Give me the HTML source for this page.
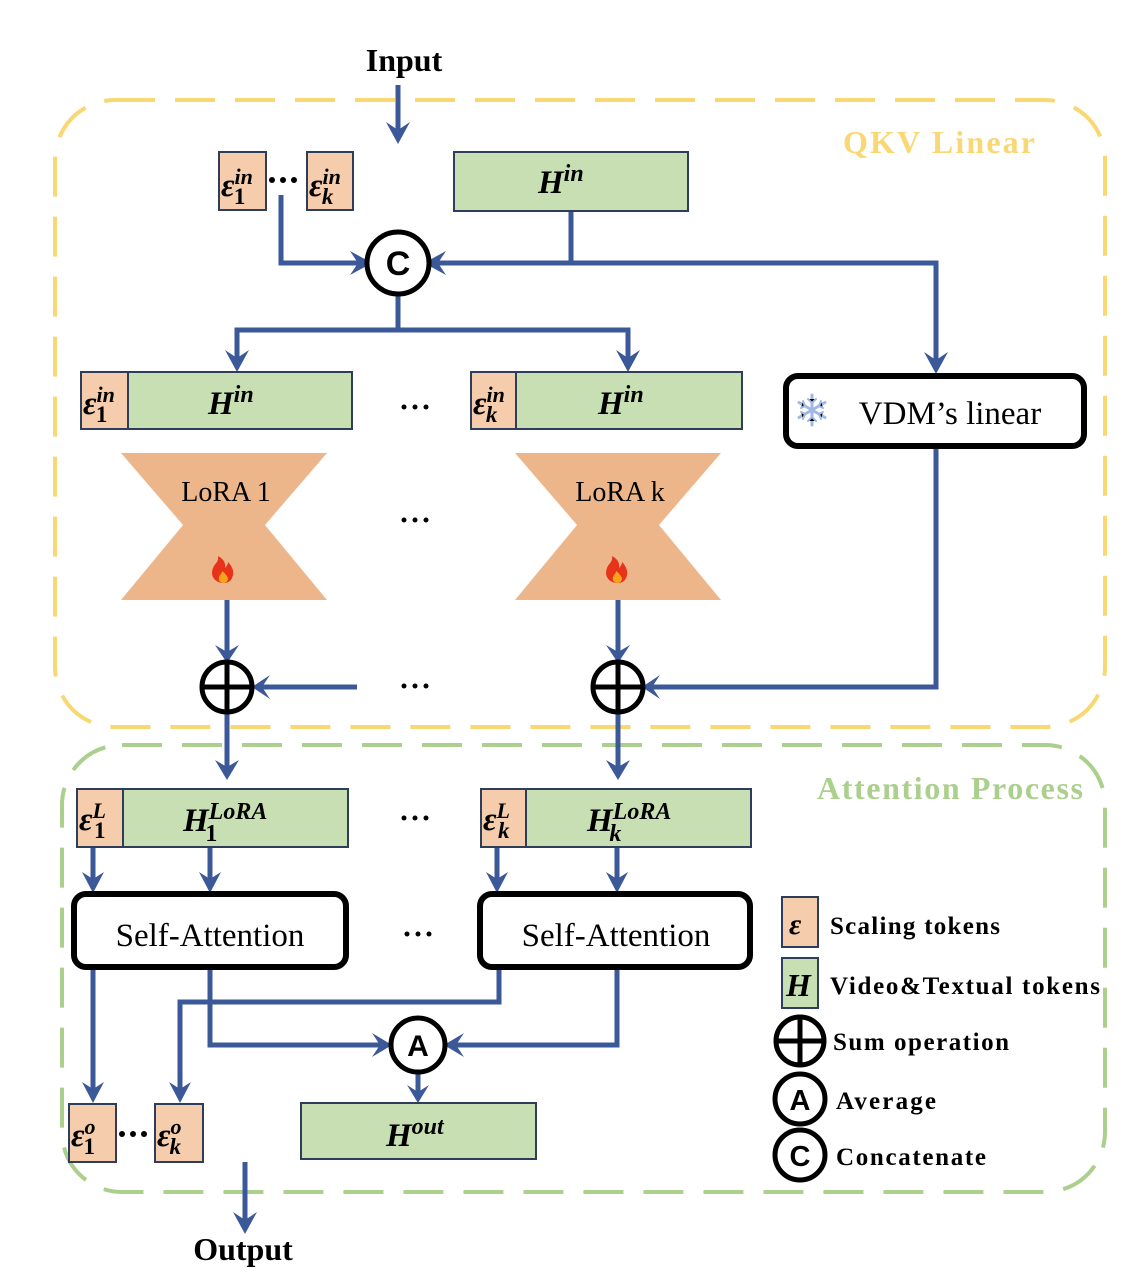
<!DOCTYPE html>
<html><head><meta charset="utf-8"><style>
html,body{margin:0;padding:0;background:#fff}
svg{display:block}
text{font-family:"Liberation Serif",serif}
.m{font-weight:bold;font-style:italic}
.b{font-weight:bold}
</style></head><body>
<svg width="1144" height="1280" viewBox="0 0 1144 1280" xmlns="http://www.w3.org/2000/svg">
<g fill="none">
<rect x="55" y="100" width="1050" height="627" rx="60" stroke="#f9d773" stroke-width="4" stroke-dasharray="40 20"/>
<rect x="62" y="745" width="1043" height="447" rx="60" stroke="#abcf8d" stroke-width="4" stroke-dasharray="40 20"/>
</g>
<text x="404" y="71" font-size="32" class="b" text-anchor="middle">Input</text>
<text x="843" y="153" font-size="32" class="b" fill="#f9d773" textLength="192">QKV Linear</text>
<text x="817" y="799" font-size="32" class="b" fill="#abcf8d" textLength="266">Attention Process</text>

<g stroke="#3b5898" stroke-width="5" fill="none">
<path d="M398 85V135"/>
<path d="M281 195V263H358"/>
<path d="M571 211V263H438"/>
<path d="M571 263H936V364"/>
<path d="M398 295V330H237V362M398 330H628V362"/>
<path d="M227 600V655M618 600V655"/>
<path d="M357 687H262"/>
<path d="M936 447V687H652"/>
<path d="M227 713V770M618 713V770"/>
<path d="M93 847V882M210 847V882M497 847V882M617 847V882"/>
<path d="M93 968V1090"/>
<path d="M210 968V1045H380"/>
<path d="M499 968V1002H180V1090"/>
<path d="M617 968V1045H456"/>
<path d="M418 1073V1092"/>
<path d="M245 1162V1222"/>
</g>
<g fill="#3b5898">
<path d="M386 122L398 144L410 122L398 130Z"/>
<path d="M350 251L372 263L350 275L358 263Z"/>
<path d="M446 251L424 263L446 275L438 263Z"/>
<path d="M924 352L936 374L948 352L936 360Z"/>
<path d="M225 350L237 372L249 350L237 358Z"/>
<path d="M616 350L628 372L640 350L628 358Z"/>
<path d="M215 645L227 663L239 645L227 652Z"/>
<path d="M606 645L618 663L630 645L618 652Z"/>
<path d="M270 675L252 687L270 699L262 687Z"/>
<path d="M660 675L642 687L660 699L652 687Z"/>
<path d="M215 760L227 780L239 760L227 767Z"/>
<path d="M606 760L618 780L630 760L618 767Z"/>
<path d="M82 872L93 893L104 872L93 879Z"/>
<path d="M199 872L210 893L221 872L210 879Z"/>
<path d="M486 872L497 893L508 872L497 879Z"/>
<path d="M606 872L617 893L628 872L617 879Z"/>
<path d="M82 1082L93 1103L104 1082L93 1089Z"/>
<path d="M169 1082L180 1103L191 1082L180 1089Z"/>
<path d="M372 1033L392 1045L372 1057L380 1045Z"/>
<path d="M464 1033L444 1045L464 1057L456 1045Z"/>
<path d="M407 1085L418 1103L429 1085L418 1092Z"/>
<path d="M233 1212L245 1234L257 1212L245 1220Z"/>
</g>

<g stroke="#2f3d5c" stroke-width="2">
<rect x="219" y="152" width="47" height="58" fill="#f5cdac"/>
<rect x="307" y="152" width="46" height="58" fill="#f5cdac"/>
<rect x="454" y="152" width="234" height="59" fill="#c8dfb3"/>
<rect x="81" y="372" width="47" height="57" fill="#f5cdac"/>
<rect x="128" y="372" width="224" height="57" fill="#c8dfb3"/>
<rect x="471" y="372" width="45" height="57" fill="#f5cdac"/>
<rect x="516" y="372" width="226" height="57" fill="#c8dfb3"/>
<rect x="77" y="789" width="46" height="58" fill="#f5cdac"/>
<rect x="123" y="789" width="225" height="58" fill="#c8dfb3"/>
<rect x="481" y="789" width="45" height="58" fill="#f5cdac"/>
<rect x="526" y="789" width="225" height="58" fill="#c8dfb3"/>
<rect x="69" y="1104" width="47" height="58" fill="#f5cdac"/>
<rect x="155" y="1104" width="48" height="58" fill="#f5cdac"/>
<rect x="301" y="1103" width="235" height="56" fill="#c8dfb3"/>
<rect x="782" y="897" width="36" height="50" fill="#f5cdac"/>
<rect x="782" y="958" width="36" height="50" fill="#c8dfb3"/>
</g>
<g stroke="#000" stroke-width="6" fill="#fff">
<rect x="786" y="376" width="298" height="70" rx="12"/>
<rect x="74" y="894" width="272" height="73" rx="12"/>
<rect x="480" y="894" width="270" height="73" rx="12"/>
</g>
<path d="M121 453H327L265 525L327 600H121L183 525Z" fill="#edb68a"/>
<path d="M515 453H721L659 525L721 600H515L577 525Z" fill="#edb68a"/>
<text x="226" y="501" font-size="28" text-anchor="middle">LoRA 1</text>
<text x="620" y="501" font-size="28" text-anchor="middle">LoRA k</text>
<path d="M224 583c-10 0-14-8-11-15 2-5 6-6 5-12 6 3 8 8 7 12 2-2 3-4 3-6 4 4 6 9 5 13-1 5-4 8-9 8z" fill="#e8331b"/>
<path d="M224 583c-4 0-6-3-5-6 1-3 3-3 3-6 3 2 5 5 6 7 0 3-2 5-4 5z" fill="#f7a21b"/>
<path d="M618 583c-10 0-14-8-11-15 2-5 6-6 5-12 6 3 8 8 7 12 2-2 3-4 3-6 4 4 6 9 5 13-1 5-4 8-9 8z" fill="#e8331b"/>
<path d="M618 583c-4 0-6-3-5-6 1-3 3-3 3-6 3 2 5 5 6 7 0 3-2 5-4 5z" fill="#f7a21b"/>

<g stroke="#000" stroke-width="5" fill="#fff">
<circle cx="398" cy="263" r="31"/>
<circle cx="227" cy="687" r="25"/>
<circle cx="618" cy="687" r="25"/>
<circle cx="418" cy="1045" r="27"/>
<circle cx="800" cy="1041" r="24"/>
<circle cx="800" cy="1099" r="25"/>
<circle cx="800" cy="1155" r="25"/>
</g>
<g stroke="#000" stroke-width="5">
<path d="M202 687H252M227 662V712M593 687H643M618 662V712M776 1041H824M800 1017V1065"/>
</g>
<g font-weight="bold" text-anchor="middle">
<text x="398" y="275" font-size="34" style="font-family:'Liberation Sans',sans-serif">C</text>
<text x="418" y="1056" font-size="30" style="font-family:'Liberation Sans',sans-serif">A</text>
<text x="800" y="1110" font-size="29" style="font-family:'Liberation Sans',sans-serif">A</text>
<text x="800" y="1166" font-size="29" style="font-family:'Liberation Sans',sans-serif">C</text>
</g>

<g stroke="#9fb8e6" stroke-width="3" stroke-linecap="round" transform="translate(812 410)">
<path d="M0-15V15M-13-7.5L13 7.5M-13 7.5L13-7.5"/>
<path d="M-4-11L0-7L4-11M-4 11L0 7L4 11M-11-2L-7-4L-9-9M11 2L7 4L9 9M11-2L7-4L9-9M-11 2L-7 4L-9 9" stroke-width="2"/>
</g>
<text x="950" y="424" font-size="33" text-anchor="middle">VDM’s linear</text>
<text x="210" y="946" font-size="33" text-anchor="middle">Self-Attention</text>
<text x="616" y="946" font-size="33" text-anchor="middle">Self-Attention</text>

<g class="m" font-size="33">
<text x="221" y="196">ε<tspan font-size="22" dy="-12">in</tspan><tspan font-size="23" dx="-19" dy="20" font-style="normal">1</tspan></text>
<text x="309" y="196">ε<tspan font-size="22" dy="-12">in</tspan><tspan font-size="23" dx="-19" dy="20">k</tspan></text>
<text x="538" y="193">H<tspan font-size="24" dy="-12">in</tspan></text>
<text x="83" y="414">ε<tspan font-size="22" dy="-12">in</tspan><tspan font-size="23" dx="-19" dy="20" font-style="normal">1</tspan></text>
<text x="208" y="414">H<tspan font-size="24" dy="-12">in</tspan></text>
<text x="473" y="414">ε<tspan font-size="22" dy="-12">in</tspan><tspan font-size="23" dx="-19" dy="20">k</tspan></text>
<text x="598" y="414">H<tspan font-size="24" dy="-12">in</tspan></text>
<text x="79" y="830">ε<tspan font-size="22" dy="-12">L</tspan><tspan font-size="23" dx="-12" dy="20" font-style="normal">1</tspan></text>
<text x="183" y="831">H<tspan font-size="24" dy="-12">LoRA</tspan><tspan font-size="24" dx="-62" dy="22" font-style="normal">1</tspan></text>
<text x="483" y="830">ε<tspan font-size="22" dy="-12">L</tspan><tspan font-size="23" dx="-12" dy="20">k</tspan></text>
<text x="587" y="831">H<tspan font-size="24" dy="-12">LoRA</tspan><tspan font-size="24" dx="-62" dy="22">k</tspan></text>
<text x="71" y="1146">ε<tspan font-size="22" dy="-12">o</tspan><tspan font-size="23" dx="-12" dy="20" font-style="normal">1</tspan></text>
<text x="157" y="1146">ε<tspan font-size="22" dy="-12">o</tspan><tspan font-size="23" dx="-12" dy="20">k</tspan></text>
<text x="386" y="1146">H<tspan font-size="24" dy="-12">out</tspan></text>
<text x="789" y="934" font-size="30">ε</text>
<text x="786" y="996" font-size="32">H</text>
</g>
<g fill="#000">
<circle cx="272" cy="180" r="3"/><circle cx="283" cy="180" r="3"/><circle cx="294" cy="180" r="3"/>
<circle cx="404" cy="407" r="2.5"/><circle cx="415" cy="407" r="2.5"/><circle cx="426" cy="407" r="2.5"/>
<circle cx="404" cy="520" r="2.5"/><circle cx="415" cy="520" r="2.5"/><circle cx="426" cy="520" r="2.5"/>
<circle cx="404" cy="686" r="2.5"/><circle cx="415" cy="686" r="2.5"/><circle cx="426" cy="686" r="2.5"/>
<circle cx="404" cy="818" r="2.5"/><circle cx="415" cy="818" r="2.5"/><circle cx="426" cy="818" r="2.5"/>
<circle cx="407" cy="934" r="2.5"/><circle cx="418" cy="934" r="2.5"/><circle cx="429" cy="934" r="2.5"/>
<circle cx="122" cy="1134" r="3"/><circle cx="133" cy="1134" r="3"/><circle cx="144" cy="1134" r="3"/>
</g>
<text x="243" y="1260" font-size="32" class="b" text-anchor="middle">Output</text>
<g class="b" font-size="25">
<text x="830" y="934" textLength="170">Scaling tokens</text>
<text x="830" y="994" textLength="270">Video&amp;Textual tokens</text>
<text x="833" y="1050" textLength="176">Sum operation</text>
<text x="836" y="1109" textLength="100">Average</text>
<text x="836" y="1165" textLength="150">Concatenate</text>
</g>
</svg>
</body></html>
